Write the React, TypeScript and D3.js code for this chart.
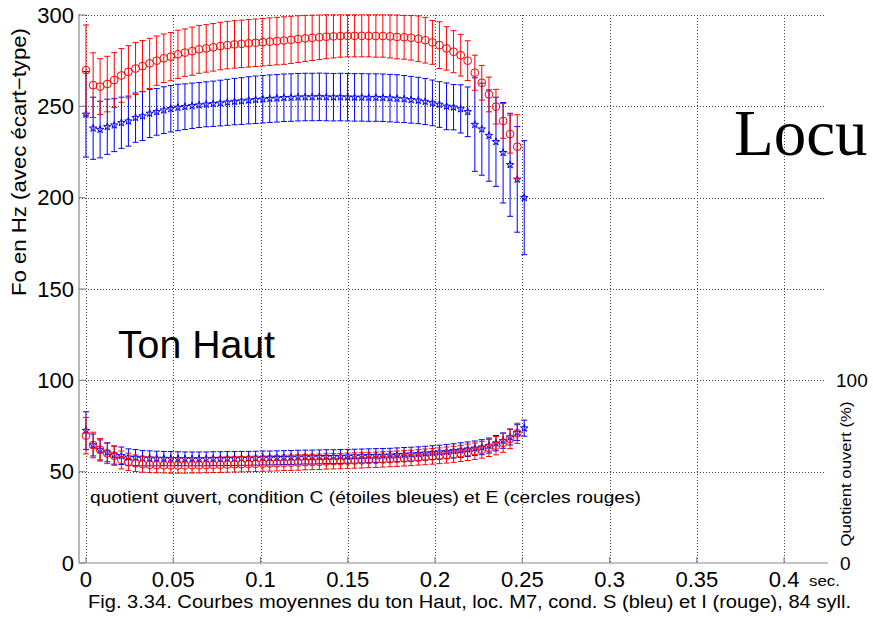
import React from 'react';
import * as d3 from 'd3';

// time (s) of each averaged point
const time = [
  0, 0.0041, 0.0081, 0.0122, 0.0162, 0.0203, 0.0243, 0.0284, 0.0324, 0.0365,
  0.0405, 0.0446, 0.0486, 0.0527, 0.0567, 0.0608, 0.0648, 0.0689, 0.0729, 0.077,
  0.081, 0.0851, 0.0891, 0.0932, 0.0972, 0.1013, 0.1053, 0.1094, 0.1134, 0.1175,
  0.1215, 0.1256, 0.1296, 0.1337, 0.1377, 0.1418, 0.1458, 0.1499, 0.1539, 0.158,
  0.162, 0.1661, 0.1701, 0.1742, 0.1782, 0.1823, 0.1863, 0.1904, 0.1944, 0.1985,
  0.2025, 0.2066, 0.2106, 0.2147, 0.2187, 0.2228, 0.2268, 0.2309, 0.2349, 0.239,
  0.243, 0.2471, 0.2511,
];

// F0 (Hz), condition S (blue stars)
const f0BlueMean = [
  245.6, 238.0, 237.3, 238.8, 239.7, 241.0, 241.9, 243.8, 244.7, 246.1,
  247.0, 247.9, 248.7, 249.4, 249.8, 250.3, 250.7, 251.1, 251.4, 251.8,
  252.2, 252.6, 252.9, 253.3, 253.6, 253.9, 254.2, 254.4, 254.7, 254.8,
  255.0, 255.1, 255.1, 255.2, 255.1, 255.0, 255.1, 255.0, 254.9, 254.9,
  254.8, 254.8, 254.7, 254.5, 254.3, 254.0, 253.6, 253.2, 252.6, 251.9,
  251.0, 250.0, 249.5, 248.6, 247.0, 240.0, 237.5, 234.0, 230.6, 224.6,
  218.0, 210.0, 200.0,
];
const f0BlueSd = [
  23.4, 17.0, 15.5, 15.1, 14.5, 14.0, 13.7, 13.5, 13.4, 13.2,
  12.8, 12.8, 12.7, 12.7, 12.5, 12.4, 12.3, 12.3, 12.4, 12.5,
  12.6, 12.7, 12.8, 12.9, 13.0, 13.0, 13.0, 13.0, 13.0, 13.0,
  13.0, 13.0, 13.0, 13.0, 13.0, 13.0, 13.0, 13.0, 13.0, 13.0,
  13.0, 13.0, 13.0, 13.0, 13.0, 12.9, 12.8, 12.7, 12.6, 12.5,
  12.5, 12.8, 12.4, 13.2, 13.6, 25.6, 25.2, 25.0, 24.4, 27.5,
  28.2, 28.9, 31.2,
];

// F0 (Hz), condition I (red circles)
const f0RedMean = [
  269.8, 261.6, 260.8, 262.2, 264.4, 266.9, 268.9, 270.7, 272.0, 273.5,
  275.0, 276.3, 277.2, 278.5, 279.4, 280.2, 281.2, 281.7, 282.3, 283.0,
  283.5, 283.9, 284.2, 284.5, 284.8, 285.1, 285.4, 285.7, 286.0, 286.4,
  286.8, 287.2, 287.5, 287.8, 288.1, 288.3, 288.5, 288.6, 288.6, 288.6,
  288.6, 288.5, 288.5, 288.3, 288.0, 287.8, 287.5, 287.0, 286.2, 285.0,
  283.5, 281.7, 279.9, 278.0, 275.0, 268.4, 262.9, 256.5, 249.8, 242.0,
  234.8, 227.9,
];
const f0RedSd = [
  24.7, 17.7, 15.3, 15.2, 15.0, 14.7, 14.3, 14.2, 14.0, 13.7,
  13.5, 13.3, 13.2, 13.2, 13.0, 13.2, 13.1, 13.0, 13.0, 13.0,
  13.0, 13.0, 13.0, 13.0, 13.0, 13.0, 13.0, 13.0, 13.0, 12.9,
  12.8, 12.6, 12.4, 12.2, 12.0, 11.8, 11.6, 11.5, 11.5, 11.5,
  11.5, 11.6, 11.6, 11.8, 12.0, 12.0, 12.2, 12.5, 12.5, 12.0,
  12.8, 11.9, 11.5, 11.4, 10.9, 9.6, 9.5, 9.5, 9.5, 9.5,
  10.4, 17.5,
];

// open quotient (%), condition C (blue stars)
const qoBlueMean = [
  72.5, 64.6, 61.9, 60.6, 59.1, 58.7, 57.9, 57.7, 57.4, 57.3,
  57.2, 57.2, 57.1, 57.1, 57.0, 57.0, 57.0, 57.0, 57.1, 57.1,
  57.2, 57.2, 57.3, 57.3, 57.4, 57.5, 57.5, 57.6, 57.7, 57.8,
  57.9, 58.0, 58.0, 58.1, 58.2, 58.2, 58.3, 58.4, 58.5, 58.6,
  58.7, 58.8, 58.9, 59.0, 59.2, 59.4, 59.6, 59.8, 60.1, 60.4,
  60.7, 61.0, 61.4, 61.8, 62.3, 62.8, 63.4, 64.3, 65.6, 67.0,
  68.9, 71.4, 73.8,
];
const qoBlueSd = [
  10.3, 6.0, 5.5, 5.2, 5.0, 4.8, 4.6, 4.4, 4.2, 4.1,
  4.0, 3.9, 3.9, 3.8, 3.8, 3.8, 3.8, 3.8, 3.8, 3.8,
  3.8, 3.8, 3.8, 3.8, 3.8, 3.8, 3.8, 3.8, 3.8, 3.8,
  3.8, 3.8, 3.8, 3.8, 3.8, 3.8, 3.8, 3.8, 3.8, 3.8,
  3.8, 3.8, 3.8, 3.8, 3.8, 3.8, 3.8, 3.8, 3.8, 3.8,
  3.8, 3.9, 3.9, 4.0, 4.0, 4.0, 4.1, 4.1, 4.2, 4.2,
  4.3, 4.3, 4.4,
];

// open quotient (%), condition E (red circles)
const qoRedMean = [
  69.7, 64.6, 62.0, 60.0, 58.7, 56.4, 55.4, 54.6, 54.1, 53.8,
  53.6, 53.5, 53.4, 53.4, 53.4, 53.5, 53.5, 53.6, 53.7, 53.8,
  53.9, 54.0, 54.1, 54.2, 54.3, 54.4, 54.5, 54.6, 54.8, 54.9,
  55.0, 55.2, 55.3, 55.4, 55.6, 55.7, 55.8, 56.0, 56.1, 56.2,
  56.4, 56.5, 56.7, 56.9, 57.1, 57.3, 57.5, 57.8, 58.1, 58.4,
  58.7, 59.1, 59.5, 60.0, 60.6, 61.2, 62.0, 63.0, 64.2, 65.8,
  68.0, 71.0,
];
const qoRedSd = [
  10.0, 7.0, 6.2, 5.6, 5.2, 4.9, 4.7, 4.5, 4.4, 4.3,
  4.2, 4.2, 4.2, 4.2, 4.2, 4.2, 4.2, 4.2, 4.2, 4.2,
  4.2, 4.2, 4.2, 4.2, 4.2, 4.2, 4.2, 4.2, 4.2, 4.2,
  4.2, 4.2, 4.2, 4.2, 4.2, 4.2, 4.2, 4.2, 4.2, 4.2,
  4.2, 4.2, 4.2, 4.2, 4.2, 4.2, 4.2, 4.2, 4.3, 4.3,
  4.3, 4.4, 4.4, 4.4, 4.5, 4.5, 4.6, 4.7, 5.0, 5.2,
  5.4, 5.5,
];

const xTicks = [0, 0.05, 0.1, 0.15, 0.2, 0.25, 0.3, 0.35, 0.4];
const xTickLabels = ['0', '0.05', '0.1', '0.15', '0.2', '0.25', '0.3', '0.35', '0.4'];
const yTicks = [0, 50, 100, 150, 200, 250, 300];
const yRightTicks = [0, 100];

const SANS = '"Liberation Sans", Arial, Helvetica, sans-serif';
const SERIF = '"Liberation Serif", "Times New Roman", serif';

export default function App() {
  const W = 873;
  const H = 619;
  const left = 79;
  const right = 826;
  const top = 15;
  const bottom = 563;

  const x = d3.scaleLinear().domain([-0.004, 0.424]).range([left, right]);
  const y = d3.scaleLinear().domain([0, 300]).range([bottom, top]);
  const yQ = d3.scaleLinear().domain([0, 100]).range([bottom, y(100)]);

  const starPath = d3.symbol(d3.symbolStar, 17)() as string;
  const cap = 3;

  const errorBars = (
    means: number[],
    sds: number[],
    scale: d3.ScaleLinear<number, number>,
    color: string,
    key: string,
  ) =>
    means.map((m, i) => {
      const cx = x(time[i]);
      const y1 = scale(m + sds[i]);
      const y2 = scale(m - sds[i]);
      return (
        <g key={key + i} stroke={color} strokeWidth={1} fill="none">
          <line x1={cx} x2={cx} y1={y1} y2={y2} />
          <line x1={cx - cap} x2={cx + cap} y1={y1} y2={y1} />
          <line x1={cx - cap} x2={cx + cap} y1={y2} y2={y2} />
        </g>
      );
    });

  const stars = (means: number[], scale: d3.ScaleLinear<number, number>, key: string) =>
    means.map((m, i) => (
      <path
        key={key + i}
        d={starPath}
        transform={`translate(${x(time[i])},${scale(m)})`}
        fill="none"
        stroke="#0000ff"
        strokeWidth={1}
      />
    ));

  const circles = (means: number[], scale: d3.ScaleLinear<number, number>, key: string) =>
    means.map((m, i) => (
      <circle
        key={key + i}
        cx={x(time[i])}
        cy={scale(m)}
        r={3.9}
        fill="none"
        stroke="#ff0000"
        strokeWidth={1}
      />
    ));

  return (
    <svg
      width={W}
      height={H}
      viewBox={`0 0 ${W} ${H}`}
      style={{ position: 'absolute', left: 0, top: 0, display: 'block', background: '#fff', overflow: 'hidden' }}
    >
      <defs>
        <clipPath id="plotClip">
          <rect x={left} y={top - 2} width={right - left} height={bottom - top + 2} />
        </clipPath>
      </defs>
      <rect x={0} y={0} width={W} height={H} fill="#fff" />

      {/* grid */}
      <g stroke="#444" strokeWidth={1} strokeDasharray="1,2">
        {xTicks.map((t) => (
          <line key={'gx' + t} x1={Math.round(x(t)) + 0.5} x2={Math.round(x(t)) + 0.5} y1={top} y2={bottom} />
        ))}
        {yTicks
          .filter((v) => v > 0)
          .map((v) => (
            <line key={'gy' + v} x1={left} x2={right} y1={Math.round(y(v)) + 0.5} y2={Math.round(y(v)) + 0.5} />
          ))}
      </g>

      {/* axes */}
      <g stroke="#8a8a8a" strokeWidth={1.2}>
        <line x1={left} x2={left} y1={top - 1} y2={bottom} />
        <line x1={left} x2={right + 2} y1={bottom} y2={bottom} />
        {xTicks.map((t) => (
          <line key={'tx' + t} x1={x(t)} x2={x(t)} y1={bottom} y2={bottom - 6} />
        ))}
        {yTicks.map((v) => (
          <line key={'ty' + v} x1={left} x2={left + 6} y1={y(v)} y2={y(v)} />
        ))}
      </g>

      {/* data */}
      <g clipPath="url(#plotClip)">
        {errorBars(f0BlueMean, f0BlueSd, y, '#0000ff', 'fbe')}
        {stars(f0BlueMean, y, 'fbs')}
        {errorBars(f0RedMean, f0RedSd, y, '#ff0000', 'fre')}
        {circles(f0RedMean, y, 'frc')}
        {errorBars(qoBlueMean, qoBlueSd, yQ, '#0000ff', 'qbe')}
        {stars(qoBlueMean, yQ, 'qbs')}
        {errorBars(qoRedMean, qoRedSd, yQ, '#ff0000', 'qre')}
        {circles(qoRedMean, yQ, 'qrc')}
      </g>

      {/* tick labels */}
      <g fontFamily={SANS} fontSize={22} fill="#000">
        {xTicks.map((t, i) => (
          <text key={'lx' + t} x={x(t)} y={587} textAnchor="middle">
            {xTickLabels[i]}
          </text>
        ))}
        {yTicks.map((v) => (
          <text key={'ly' + v} x={left - 5} y={y(v) + 7.5} textAnchor="end">
            {v}
          </text>
        ))}
      </g>
      <g fontFamily={SANS} fontSize={19} fill="#000">
        {yRightTicks.map((v) => (
          <text key={'lr' + v} x={v === 0 ? 840 : 836} y={yQ(v) + 7} textAnchor="start">
            {v}
          </text>
        ))}
      </g>
      <text x={809} y={586} fontFamily={SANS} fontSize={14} textLength={31} lengthAdjust="spacingAndGlyphs">
        sec.
      </text>

      {/* axis titles */}
      <text
        transform="translate(26,162) rotate(-90)"
        textAnchor="middle"
        fontFamily={SANS}
        fontSize={20}
        textLength={268}
        lengthAdjust="spacingAndGlyphs"
      >
        Fo en Hz (avec écart−type)
      </text>
      <text
        transform="translate(851,474) rotate(-90)"
        textAnchor="middle"
        fontFamily={SANS}
        fontSize={15.5}
        textLength={145}
        lengthAdjust="spacingAndGlyphs"
      >
        Quotient ouvert (%)
      </text>

      {/* annotations */}
      <text x={118} y={358} fontFamily={SANS} fontSize={38} textLength={157} lengthAdjust="spacingAndGlyphs">
        Ton Haut
      </text>
      <text x={90} y={503} fontFamily={SANS} fontSize={17} textLength={551} lengthAdjust="spacingAndGlyphs">
        quotient ouvert, condition C (étoiles bleues) et E (cercles rouges)
      </text>
      <text x={734} y={155} fontFamily={SERIF} fontSize={65}>
        Locu
      </text>

      {/* caption */}
      <text
        x={88}
        y={608}
        fontFamily={SANS}
        fontSize={18.5}
        textLength={763}
        lengthAdjust="spacingAndGlyphs"
      >
        Fig. 3.34. Courbes moyennes du ton Haut, loc. M7, cond. S (bleu) et I (rouge), 84 syll.
      </text>
    </svg>
  );
}
